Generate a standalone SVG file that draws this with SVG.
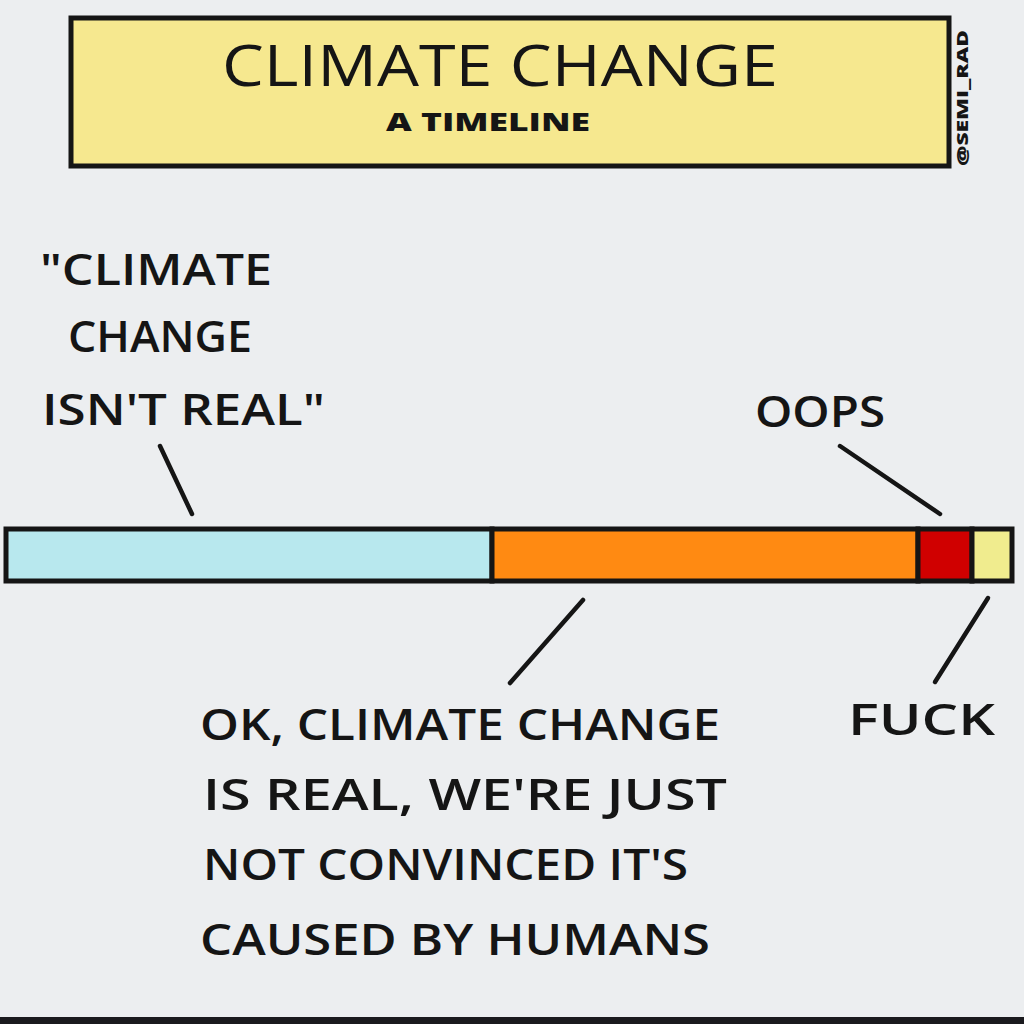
<svg xmlns="http://www.w3.org/2000/svg" width="1024" height="1024" viewBox="0 0 1024 1024">
<style>
.t{font-family:"Open Sans","DejaVu Sans",sans-serif;font-weight:600;fill:#151515}
.ln{stroke:#151515;stroke-width:4.5;stroke-linecap:round;fill:none}
.seg{stroke:#151515;stroke-width:5}
</style>
<rect x="0" y="0" width="1024" height="1024" fill="#eceef0"/>
<rect x="0" y="1017" width="1024" height="7" fill="#1a1a1e"/>
<g id="title">
<rect x="71" y="18" width="878" height="148" fill="#f6e88f" stroke="#151515" stroke-width="5"/>
<text class="t" x="222" y="86" font-size="56" style="font-weight:400" textLength="556" lengthAdjust="spacingAndGlyphs">CLIMATE CHANGE</text>
<text class="t" x="386" y="131" font-size="24" style="font-weight:800" textLength="204" lengthAdjust="spacingAndGlyphs">A TIMELINE</text>
</g>
<g id="watermark">
<text class="t" transform="translate(968,166) rotate(-90)" font-size="15" style="font-weight:800" textLength="136" lengthAdjust="spacingAndGlyphs">@SEMI_RAD</text>
</g>
<g id="timeline">
<rect x="6" y="529" width="486" height="52" fill="#b8e8ee" class="seg"/>
<rect x="492" y="529" width="426" height="52" fill="#ff8a12" class="seg"/>
<rect x="918" y="529" width="54" height="52" fill="#d00000" class="seg"/>
<rect x="972" y="529" width="40" height="52" fill="#f0ec8e" class="seg"/>
</g>
<g id="label-isnt-real">
<text class="t" x="40" y="285" font-size="44" textLength="232" lengthAdjust="spacingAndGlyphs">"CLIMATE</text>
<text class="t" x="68" y="352" font-size="44" textLength="184" lengthAdjust="spacingAndGlyphs">CHANGE</text>
<text class="t" x="42" y="425" font-size="44" textLength="283" lengthAdjust="spacingAndGlyphs">ISN'T REAL"</text>
</g>
<g id="label-oops">
<text class="t" x="755" y="427" font-size="44" textLength="130" lengthAdjust="spacingAndGlyphs">OOPS</text>
</g>
<g id="label-real">
<text class="t" x="200" y="740" font-size="44" textLength="520" lengthAdjust="spacingAndGlyphs">OK, CLIMATE CHANGE</text>
<text class="t" x="203" y="810" font-size="44" textLength="524" lengthAdjust="spacingAndGlyphs">IS REAL, WE'RE JUST</text>
<text class="t" x="203" y="880" font-size="44" textLength="485" lengthAdjust="spacingAndGlyphs">NOT CONVINCED IT'S</text>
<text class="t" x="200" y="955" font-size="44" textLength="510" lengthAdjust="spacingAndGlyphs">CAUSED BY HUMANS</text>
</g>
<g id="label-fuck">
<text class="t" x="848" y="735" font-size="44" textLength="147" lengthAdjust="spacingAndGlyphs">FUCK</text>
</g>
<g id="connectors">
<line class="ln" x1="160" y1="446" x2="192" y2="514"/>
<line class="ln" x1="840" y1="446" x2="940" y2="514"/>
<line class="ln" x1="583" y1="600" x2="510" y2="683"/>
<line class="ln" x1="988" y1="598" x2="935" y2="682"/>
</g>
</svg>
